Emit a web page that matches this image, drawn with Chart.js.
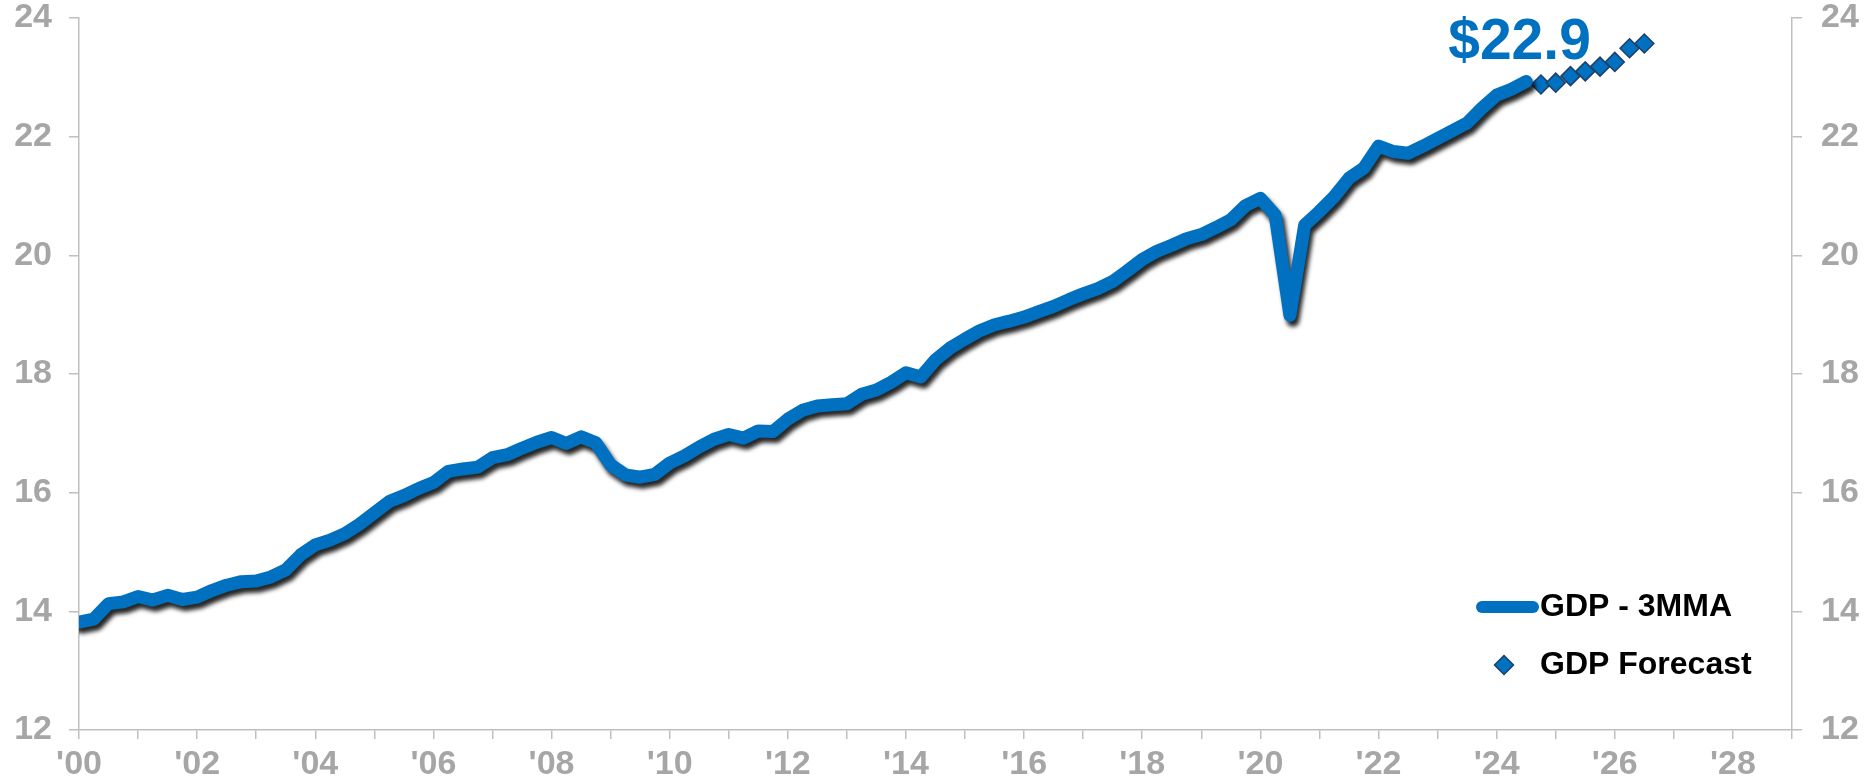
<!DOCTYPE html>
<html>
<head>
<meta charset="utf-8">
<title>GDP - 3MMA</title>
<script src="https://cdn.jsdelivr.net/npm/chart.js@4.4.1/dist/chart.umd.min.js"></script>
<style>
  html, body { margin: 0; padding: 0; background: #fff; }
  #gdpChart { display: block; }
</style>
</head>
<body>
<canvas id="gdpChart" width="1868" height="784"></canvas>
<script>
// Dados trimestrais, media movel de 3 meses (US$ trilhoes)
var histStart = 2000;
var gdp3mma = [
    13.82, 13.87, 14.13, 14.16,
    14.25, 14.19, 14.27, 14.20,
    14.24, 14.35, 14.44, 14.50,
    14.51, 14.58, 14.70, 14.95,
    15.12, 15.20, 15.31, 15.47,
    15.66, 15.85, 15.95, 16.07,
    16.17, 16.36, 16.40, 16.43,
    16.59, 16.64, 16.75, 16.85,
    16.93, 16.83, 16.94, 16.84,
    16.47, 16.30, 16.26, 16.31,
    16.50, 16.62, 16.77, 16.90,
    16.98, 16.92, 17.04, 17.03,
    17.24, 17.39, 17.46, 17.48,
    17.50, 17.66, 17.73, 17.86,
    18.02, 17.95, 18.24, 18.44,
    18.59, 18.73, 18.83, 18.89,
    18.96, 19.05, 19.14, 19.25,
    19.35, 19.44, 19.56, 19.74,
    19.93, 20.07, 20.17, 20.28,
    20.35, 20.47, 20.60, 20.84,
    20.96, 20.68, 18.99, 20.51,
    20.74, 20.99, 21.30, 21.47,
    21.84, 21.75, 21.72, 21.84,
    21.97, 22.10, 22.23, 22.48,
    22.70, 22.80, 22.93
];

// Previsao trimestral
var forecastStart = 2024.75;
var gdpForecast = [22.88, 22.91, 23.02, 23.10, 23.18, 23.26, 23.49, 23.57];

var seriesNames = ["GDP - 3MMA", "GDP Forecast"];
var yTicks = [12, 14, 16, 18, 20, 22, 24];
var xMin = 2000;
var xMax = 2029;

var blue = "#0070C0";
var gray = "#a6a6a6";
var axisGray = "#bfbfbf";
var fontFamily = "Arial, 'Liberation Sans', sans-serif";

// Transformar a lista de valores trimestrais em pontos {x, y}
function toPoints(start, values) {
    return values.map(function (v, i) {
        return { x: start + i * 0.25, y: v };
    });
}

// Sombra preta por baixo da linha principal
var shadowPlugin = {
    id: "lineShadow",
    beforeDatasetDraw: function (chart, args) {
        if (args.index !== 0) return;
        var ctx = chart.ctx;
        ctx.save();
        ctx.shadowColor = "rgba(0, 0, 0, 0.85)";
        ctx.shadowBlur = 4;
        ctx.shadowOffsetX = 3;
        ctx.shadowOffsetY = 5;
    },
    afterDatasetDraw: function (chart, args) {
        if (args.index !== 0) return;
        chart.ctx.restore();
    }
};

// Rotulo do ultimo valor e legenda dentro da area do grafico
var notesPlugin = {
    id: "notes",
    afterDraw: function (chart) {
        var ctx = chart.ctx;
        var area = chart.chartArea;
        var xs = chart.scales.x;
        var ys = chart.scales.y;
        var last = gdp3mma.length - 1;
        var lx = xs.getPixelForValue(histStart + last * 0.25);
        var ly = ys.getPixelForValue(gdp3mma[last]);

        ctx.save();
        ctx.fillStyle = blue;
        ctx.font = "bold 57px " + fontFamily;
        ctx.textAlign = "left";
        ctx.textBaseline = "alphabetic";
        ctx.fillText("$" + gdp3mma[last].toFixed(1), lx - 78, ly - 22);

        // legenda
        var row1 = area.bottom - 123;
        var row2 = area.bottom - 65;
        var textX = area.right - 252;

        ctx.strokeStyle = blue;
        ctx.lineWidth = 12;
        ctx.lineCap = "round";
        ctx.beginPath();
        ctx.moveTo(area.right - 310, row1);
        ctx.lineTo(area.right - 259, row1);
        ctx.stroke();

        var dx = area.right - 288;
        var r = 9.5;
        ctx.beginPath();
        ctx.moveTo(dx - r, row2);
        ctx.lineTo(dx, row2 - r);
        ctx.lineTo(dx + r, row2);
        ctx.lineTo(dx, row2 + r);
        ctx.closePath();
        ctx.fillStyle = blue;
        ctx.fill();
        ctx.lineWidth = 1.5;
        ctx.strokeStyle = "#1f3f66";
        ctx.stroke();

        ctx.fillStyle = "#000";
        ctx.font = "bold 32px " + fontFamily;
        ctx.textBaseline = "middle";
        ctx.fillText(seriesNames[0], textX, row1);
        ctx.fillText(seriesNames[1], textX, row2);
        ctx.restore();
    }
};

function yAxis(position, width, padding) {
    return {
        position: position,
        min: yTicks[0],
        max: yTicks[yTicks.length - 1],
        ticks: {
            stepSize: yTicks[1] - yTicks[0],
            color: gray,
            padding: padding,
            font: { family: fontFamily, size: 34, weight: "bold", lineHeight: 1 }
        },
        grid: { drawOnChartArea: false, tickLength: 10, color: axisGray, lineWidth: 1.5 },
        border: { display: true, color: axisGray, width: 1.5 },
        afterFit: function (scale) {
            scale.width = width;
            scale.paddingTop = 18;
            scale.paddingBottom = 18;
        }
    };
}

function setupChart() {
    var ctx = document.getElementById("gdpChart");
    new Chart(ctx, {
        type: "line",
        data: {
            datasets: [{
                label: seriesNames[0],
                data: toPoints(histStart, gdp3mma),
                borderColor: blue,
                borderWidth: 13,
                borderCapStyle: "round",
                borderJoinStyle: "round",
                pointRadius: 0,
                fill: false,
                clip: 0,
                yAxisID: "y"
            }, {
                label: seriesNames[1],
                data: toPoints(forecastStart, gdpForecast),
                showLine: false,
                pointStyle: "rectRot",
                pointRadius: 9.5,
                pointBackgroundColor: blue,
                pointBorderColor: "#1f3f66",
                pointBorderWidth: 1.5,
                yAxisID: "y"
            }]
        },
        options: {
            responsive: false,
            animation: false,
            layout: { padding: { top: 0, left: 0, right: 0, bottom: 0 } },
            plugins: {
                legend: { display: false },
                tooltip: { enabled: false }
            },
            scales: {
                x: {
                    type: "linear",
                    min: xMin,
                    max: xMax,
                    ticks: {
                        stepSize: 1,
                        autoSkip: false,
                        maxRotation: 0,
                        color: gray,
                        padding: 9,
                        font: { family: fontFamily, size: 34, weight: "bold", lineHeight: 1 },
                        callback: function (value) {
                            if (value % 2 !== 0) return "";
                            return "'" + String(value % 100).padStart(2, "0");
                        }
                    },
                    grid: { drawOnChartArea: false, tickLength: 9, color: axisGray, lineWidth: 1.5 },
                    border: { display: true, color: axisGray, width: 1.5 },
                    afterFit: function (scale) {
                        scale.height = 54;
                        scale.paddingLeft = 0;
                        scale.paddingRight = 0;
                    }
                },
                y: yAxis("left", 79, 17),
                y2: yAxis("right", 76, 19)
            }
        },
        plugins: [shadowPlugin, notesPlugin]
    });
}

window.addEventListener("load", setupChart);
</script>
</body>
</html>
